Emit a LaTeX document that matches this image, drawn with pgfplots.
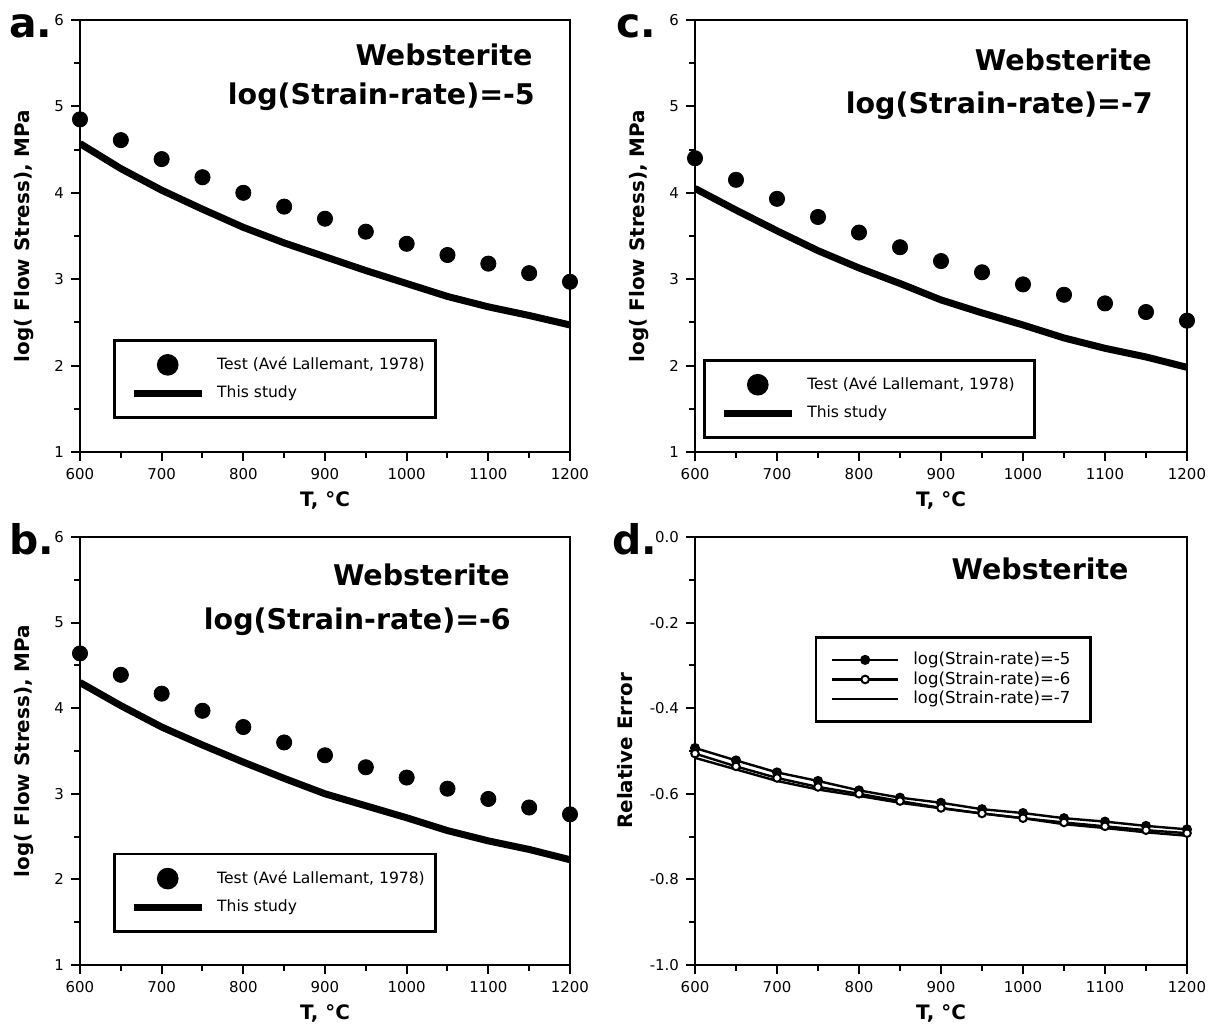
\documentclass[border=0pt]{standalone}
\usepackage{fontspec}
\setmainfont{DejaVu Sans}
\usepackage{pgfplots}
\pgfplotsset{compat=1.18}

\tikzset{
  titlefont/.style={anchor=east, inner sep=0pt, font=\bfseries\fontsize{14.3}{16}\selectfont},
  letterfont/.style={anchor=base west, inner sep=0pt, font=\bfseries\fontsize{20.5}{24}\selectfont},
}
\pgfplotsset{
  panel/.style={
    scale only axis,
    xmin=600, xmax=1200,
    xtick={600,700,...,1200},
    minor xtick={650,750,...,1150},
    axis line style={line width=1.2bp},
    every tick/.style={black, line width=1bp},
    major tick length=4.5bp, minor tick length=3bp,
    tick align=outside,
    xtick pos=left, ytick pos=left,
    ticklabel style={font=\fontsize{7.5}{9}\selectfont},
    /pgf/number format/assume math mode=true,
    /pgf/number format/1000 sep={},
    scaled ticks=false,
    xlabel={T, °C},
    every axis x label/.style={at={(axis description cs:0.5,0)}, anchor=center, yshift=-24bp, font=\bfseries\fontsize{10}{12}\selectfont},
    every axis y label/.style={at={(axis description cs:-0.114,0.5)}, rotate=90, anchor=center, font=\bfseries\fontsize{10}{12}\selectfont},
    legend cell align=left,
    legend image code/.code={\draw[mark repeat=2,mark phase=2,#1] plot coordinates {(0bp,0bp) (17bp,0bp) (34bp,0bp)};},
  },
  stress/.style={
    panel,
    ymin=1, ymax=6,
    ytick={1,2,...,6},
    minor ytick={1.5,2.5,...,5.5},
    ylabel={log( Flow Stress), MPa},
    legend style={anchor=south west, draw=black, line width=1.4bp, inner xsep=8bp, inner ysep=5bp,
      font=\fontsize{7.8}{9}\selectfont, nodes={inner xsep=0pt, inner ysep=3.4bp},
      /tikz/every odd column/.append style={column sep=6bp}},
  },
  dots/.style={only marks, mark=*, mark size=3.8bp, black, forget plot},
  curve/.style={black, line width=3.5bp, forget plot},
}

\begin{document}
\begin{tikzpicture}
\useasboundingbox (0,0) rectangle (607.5bp,512bp);

% ---------------- panel a ----------------
\begin{axis}[stress, at={(40bp,286bp)}, anchor=south west, width=245bp, height=216bp,
  legend style={at={(0.067,0.076)}}]
\addplot[dots] table {
600 4.85
650 4.61
700 4.39
750 4.18
800 4.00
850 3.84
900 3.70
950 3.55
1000 3.41
1050 3.28
1100 3.18
1150 3.07
1200 2.97
};
\addplot[curve] table {
600 4.57
650 4.28
700 4.03
750 3.81
800 3.60
850 3.42
900 3.26
950 3.10
1000 2.95
1050 2.80
1100 2.68
1150 2.58
1200 2.47
};
\addlegendimage{only marks, mark=*, mark size=4.7bp, black}
\addlegendentry{\makebox[101bp][l]{Test (Avé Lallemant, 1978)}}
\addlegendimage{black, line width=3.5bp}
\addlegendentry{This study}
\node[titlefont] at (rel axis cs:0.924,0.919) {Websterite};
\node[titlefont] at (rel axis cs:0.929,0.822) {log(Strain-rate)=-5};
\end{axis}

% ---------------- panel c ----------------
\begin{axis}[stress, at={(347.5bp,286bp)}, anchor=south west, width=246bp, height=216bp,
  legend style={at={(0.016,0.030)}}]
\addplot[dots] table {
600 4.40
650 4.15
700 3.93
750 3.72
800 3.54
850 3.37
900 3.21
950 3.08
1000 2.94
1050 2.82
1100 2.72
1150 2.62
1200 2.52
};
\addplot[curve] table {
600 4.05
650 3.80
700 3.56
750 3.33
800 3.13
850 2.95
900 2.76
950 2.61
1000 2.47
1050 2.32
1100 2.20
1150 2.10
1200 1.98
};
\addlegendimage{only marks, mark=*, mark size=4.7bp, black}
\addlegendentry{\makebox[105.5bp][l]{Test (Avé Lallemant, 1978)}}
\addlegendimage{black, line width=3.5bp}
\addlegendentry{This study}
\node[titlefont] at (rel axis cs:0.929,0.907) {Websterite};
\node[titlefont] at (rel axis cs:0.931,0.801) {log(Strain-rate)=-7};
\end{axis}

% ---------------- panel b ----------------
\begin{axis}[stress, at={(40bp,29.5bp)}, anchor=south west, width=245bp, height=214bp,
  legend style={at={(0.067,0.075)}}]
\addplot[dots] table {
600 4.64
650 4.39
700 4.17
750 3.97
800 3.78
850 3.60
900 3.45
950 3.31
1000 3.19
1050 3.06
1100 2.94
1150 2.84
1200 2.76
};
\addplot[curve] table {
600 4.30
650 4.03
700 3.78
750 3.57
800 3.37
850 3.18
900 3.00
950 2.86
1000 2.72
1050 2.57
1100 2.45
1150 2.35
1200 2.23
};
\addlegendimage{only marks, mark=*, mark size=4.7bp, black}
\addlegendentry{\makebox[101bp][l]{Test (Avé Lallemant, 1978)}}
\addlegendimage{black, line width=3.5bp}
\addlegendentry{This study}
\node[titlefont] at (rel axis cs:0.878,0.911) {Websterite};
\node[titlefont] at (rel axis cs:0.880,0.801) {log(Strain-rate)=-6};
\end{axis}

% ---------------- panel d ----------------
\begin{axis}[panel, at={(347.5bp,29.5bp)}, anchor=south west, width=246bp, height=214bp,
  ymin=-1, ymax=0,
  ytick={-1,-0.8,...,0.01},
  minor ytick={-0.9,-0.7,...,-0.09},
  yticklabel style={/pgf/number format/.cd, fixed, zerofill, precision=1},
  ylabel={Relative Error},
  every axis y label/.append style={at={(axis description cs:-0.142,0.5)}},
  legend style={at={(0.243,0.565)}, anchor=south west, draw=black, line width=1.4bp,
    inner xsep=7.5bp, inner ysep=6.5bp,
    font=\fontsize{8.3}{9}\selectfont, nodes={inner xsep=0pt, inner ysep=1bp},
    /tikz/every odd column/.append style={column sep=7bp}},
  legend image code/.code={\draw[mark repeat=2,mark phase=2,#1] plot coordinates {(0bp,0bp) (16.5bp,0bp) (33bp,0bp)};},
]
\addplot[black, line width=1.2bp, mark=*, mark size=1.9bp] table {
600 -0.493
650 -0.522
700 -0.550
750 -0.570
800 -0.592
850 -0.609
900 -0.621
950 -0.636
1000 -0.645
1050 -0.657
1100 -0.665
1150 -0.675
1200 -0.683
};
\addlegendentry{\makebox[81bp][l]{log(Strain-rate)=-5}}
\addplot[black, line width=1.2bp, mark=*, mark size=1.9bp, mark options={fill=white, line width=1bp}] table {
600 -0.506
650 -0.536
700 -0.563
750 -0.584
800 -0.600
850 -0.617
900 -0.633
950 -0.646
1000 -0.657
1050 -0.667
1100 -0.676
1150 -0.685
1200 -0.692
};
\addlegendentry{log(Strain-rate)=-6}
\addplot[black, line width=1.2bp] table {
600 -0.516
650 -0.543
700 -0.570
750 -0.590
800 -0.605
850 -0.621
900 -0.634
950 -0.646
1000 -0.657
1050 -0.671
1100 -0.680
1150 -0.690
1200 -0.698
};
\addlegendentry{log(Strain-rate)=-7}
\node[titlefont] at (rel axis cs:0.882,0.925) {Websterite};
\end{axis}

% panel letters
\node[letterfont] at (4.5bp,493bp) {a.};
\node[letterfont] at (308bp,493bp) {c.};
\node[letterfont] at (4.5bp,234.5bp) {b.};
\node[letterfont] at (306bp,234.5bp) {d.};
\end{tikzpicture}
\end{document}
